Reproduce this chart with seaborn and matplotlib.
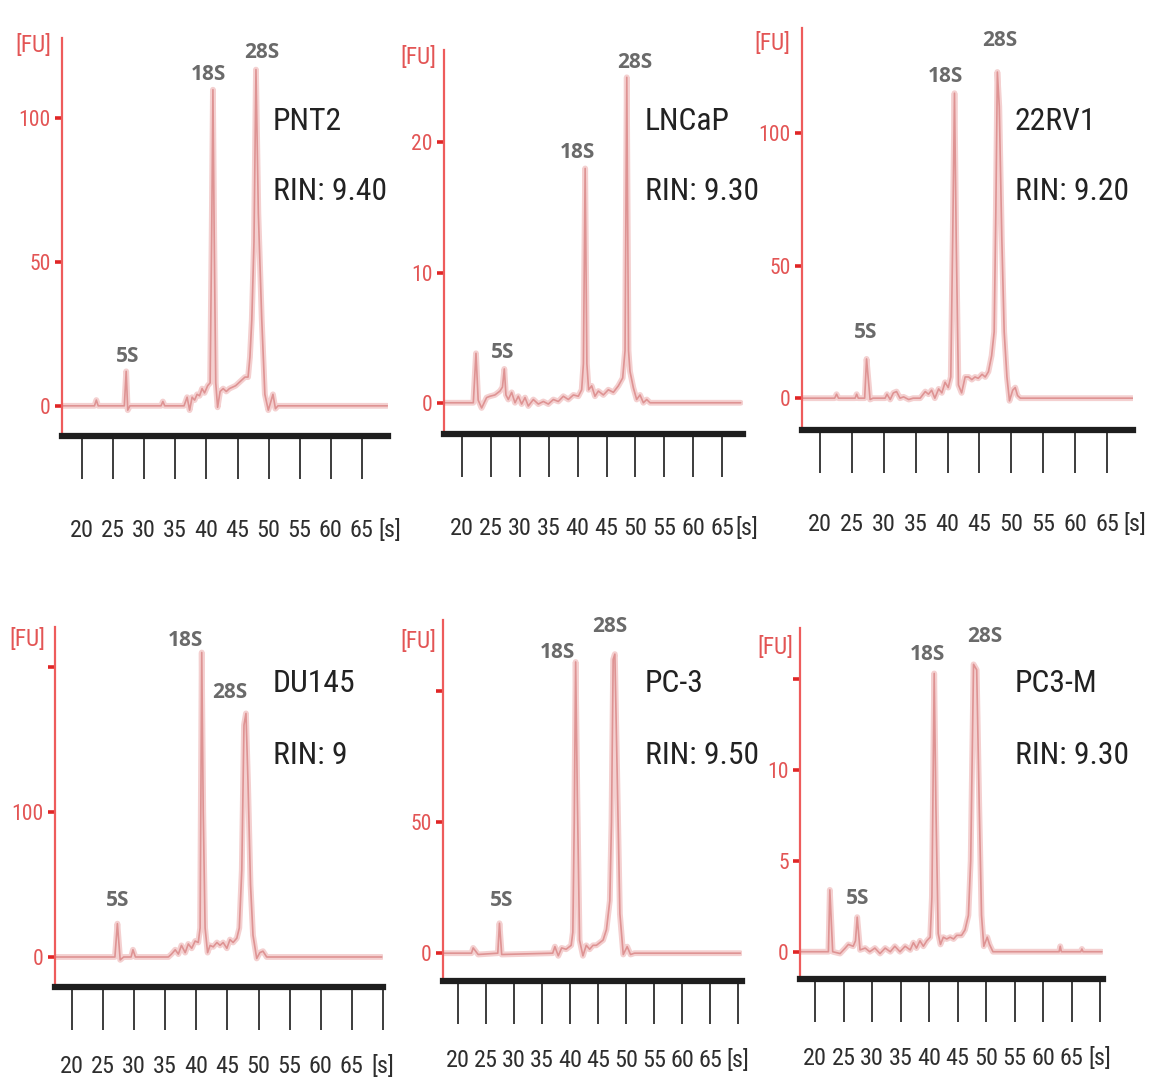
import matplotlib
matplotlib.use('Agg')
import matplotlib.pyplot as plt
from matplotlib import font_manager
import pandas as pd
import seaborn as sns

sns.set_style('white')
plt.rcParams['font.family'] = ['DejaVu Sans']

# pick a narrow face if one is installed, else fall back to Arial-like Liberation Sans
installed = {f.name for f in font_manager.fontManager.ttflist}
NARROW = next((n for n in ['Liberation Sans Narrow', 'Roboto Condensed', 'Open Sans Condensed']
               if n in installed), None)
if NARROW is None:
    NARROW, FS = 'Liberation Sans', 1.0
else:
    FS = 1.2

# Sample names and RIN values
samples = ['PNT2', 'LNCaP', '22RV1', 'DU145', 'PC-3', 'PC3-M']
rin_labels = ['RIN: 9.40', 'RIN: 9.30', 'RIN: 9.20', 'RIN: 9', 'RIN: 9.50', 'RIN: 9.30']
peak_names = ['18S', '28S', '5S']

# x ticks (seconds)
x_ticks_top = [20, 25, 30, 35, 40, 45, 50, 55, 60, 65]
x_ticks_bottom = [20, 25, 30, 35, 40, 45, 50, 55, 60, 65, 70]
x_labels_bottom = ['20', '25', '30', '35', '40', '45', '50', '55', '60', '65', '[s]']

# y ticks (fluorescence units) per panel
pnt2_yticks, pnt2_ylabels = [0, 50, 100], ['0', '50', '100']
lncap_yticks, lncap_ylabels = [0, 10, 20], ['0', '10', '20']
rv1_yticks, rv1_ylabels = [0, 50, 100], ['0', '50', '100']
du_yticks, du_ylabels = [0, 100, 200], ['0', '100', '']
pc3_yticks, pc3_ylabels = [0, 50, 100], ['0', '50', '']
pc3m_yticks, pc3m_ylabels = [0, 5, 10, 15], ['0', '5', '10', '']

# Electropherogram traces (time [s], FU)
pnt2_time = [16.9, 22.0, 22.3, 22.6, 26.8, 27.1, 27.35, 27.7, 32.7, 33.0, 33.3, 36.4, 36.9, 37.3,
             37.7, 38.1, 38.5, 38.9, 39.3, 39.7, 40.2, 40.6, 40.85, 41.05, 41.25, 41.5, 41.8, 42.2,
             42.7, 43.2, 43.7, 44.2, 44.7, 45.2, 45.7, 46.2, 46.7, 47.0, 47.3, 47.65, 47.97, 48.35,
             48.9, 49.4, 49.95, 50.3, 50.7, 51.1, 51.5, 69.1]
pnt2_fu = [0, 0, 2, 0, 0, 12, -1.5, 0, 0, 1.5, 0, 0, 3, -1.5,
           3, 2, 4, 3.5, 6, 4.5, 7, 8, 60, 110, 60, 8, -0.5, 5,
           6, 5, 6, 6.5, 7, 8, 9, 10, 10, 17, 30, 57, 117, 67,
           30, 4, -1.5, 1, 4, -1, 0, 0]

lncap_time = [16.8, 21.96, 22.42, 22.8, 23.4, 24.26, 24.84, 25.7, 26.57, 27.0, 27.32, 27.6, 28.01,
              28.59, 29.17, 29.74, 30.32, 30.9, 31.47, 32.34, 33.2, 34.07, 34.93, 35.8, 36.66, 37.53,
              38.39, 39.26, 40.12, 40.7, 41.0, 41.3, 41.6, 41.9, 42.43, 43.0, 43.58, 44.45, 45.31,
              46.18, 47.04, 47.79, 48.2, 48.5, 48.8, 49.06, 49.64, 50.21, 50.79, 51.37, 51.95, 52.52, 68.2]
lncap_fu = [0, 0, 3.8, 0.2, -0.4, 0.4, 0.5, 0.6, 0.9, 1.2, 2.6, 0.6, 0.25,
            0.8, 0, 0.5, -0.1, 0.4, -0.25, 0.25, -0.1, 0.1, -0.1, 0.25, 0.1, 0.5,
            0.25, 0.6, 0.5, 1.0, 3, 18, 3, 1.0, 1.3, 0.5, 0.9, 0.6, 1.0,
            0.8, 1.3, 1.9, 4, 25, 4, 2.4, 1.15, 0.25, 0.6, 0, 0.25, 0, 0]

rv1_time = [17.2, 22.3, 22.6, 22.9, 25.5, 25.75, 26.0, 27.0, 27.3, 27.85, 28.3, 30.2, 30.5, 31.0,
            31.5, 32.0, 32.55, 33.1, 33.9, 34.6, 35.7, 36.5, 37.0, 37.5, 38.0, 38.6, 39.1, 39.6,
            40.1, 40.5, 40.8, 41.08, 41.35, 41.7, 42.2, 42.75, 43.3, 43.8, 44.3, 44.8, 45.4, 45.9,
            46.4, 46.9, 47.3, 47.56, 47.8, 48.1, 48.5, 48.87, 49.3, 49.7, 50.2, 50.6, 50.96, 51.4, 69.0]
rv1_fu = [0, 0, 1.5, 0, 0, 1.5, 0, 0, 14.8, -0.5, 0, 0, 1.5, -0.5,
          2, 2.5, 0, 0.5, -0.5, 0, 0, 2.5, 1.5, 3, 0, 3.5, 2, 6,
          4, 8, 60, 115, 60, 5, 2, 8, 8, 7, 8, 7.5, 9, 8,
          10, 16, 25, 70, 123, 110, 60, 25, 8, -1, 3, 4, 1, 0, 0]

du_time = [17.1, 26.9, 27.3, 27.75, 28.3, 29.5, 29.8, 30.2, 35.5, 36.0, 36.6, 37.1, 37.6, 38.2,
           38.7, 39.25, 39.8, 40.3, 40.6, 40.86, 41.1, 41.4, 41.8, 42.2, 42.7, 43.3, 43.8, 44.3,
           44.9, 45.4, 45.9, 46.5, 46.9, 47.3, 47.65, 47.97, 48.3, 48.7, 49.1, 49.7, 50.2, 50.7,
           51.3, 69.8]
du_fu = [0, 0, 23, -2, 0, 0, 5, 0, 0, 2, 5, 2, 8, 3,
         9, 6, 11, 10, 20, 210, 100, 20, 3, 8, 7, 10, 8, 10,
         6, 12, 10, 13, 20, 60, 160, 168, 120, 50, 15, -1, 3, 4,
         0, 0]

pc3_time = [17.3, 22.4, 22.7, 23.6, 27.1, 27.4, 27.8, 36.9, 37.3, 37.9, 38.5, 39.3, 40.2, 40.5,
            40.75, 41.0, 41.3, 41.7, 42.3, 42.9, 43.5, 44.1, 44.7, 45.3, 45.9, 46.5, 47.1, 47.4,
            47.7, 48.0, 48.4, 48.9, 49.5, 50.2, 50.8, 51.5, 70.4]
pc3_fu = [0, 0, 2, -0.5, 0, 11.4, -0.5, 0, 2.5, -1, 2, 1.5, 3, 8,
          50, 111, 60, 5, -1, 3, 1.5, 3, 3, 4, 5, 9, 20, 50,
          112, 114, 70, 15, -0.5, 2.5, -0.5, 0, 0]

pc3m_time = [17.4, 22.35, 22.6, 23.1, 24.4, 25.3, 25.85, 26.7, 27.1, 27.4, 27.9, 28.8, 29.6, 30.5,
             31.4, 32.3, 33.2, 34.0, 34.9, 35.8, 36.7, 37.25, 37.8, 38.4, 39.0, 39.6, 40.2, 40.5,
             40.9, 41.2, 41.6, 42.0, 42.5, 43.1, 43.7, 44.3, 44.85, 45.7, 46.3, 46.9, 47.3, 47.8,
             48.35, 48.8, 49.2, 49.6, 50.2, 50.6, 51.2, 62.8, 63.0, 63.2, 66.6, 66.8, 67.0, 70.3]
pc3m_fu = [0, 0, 3.4, 0, -0.1, 0.2, 0.4, 0.3, 0.6, 1.9, 0.1, 0.2, 0, 0.2,
           -0.1, 0.2, 0, 0.3, 0, 0.3, 0.1, 0.5, 0.2, 0.6, 0.3, 0.6, 0.8, 3,
           15.3, 8, 1, 0.4, 0.8, 0.7, 0.8, 0.7, 0.9, 0.9, 1.2, 2, 5, 15.8,
           15.5, 8, 2, 0.3, 0.8, 0.4, 0, 0, 0.3, 0, 0, 0.15, 0, 0]

traces = [(pnt2_time, pnt2_fu), (lncap_time, lncap_fu), (rv1_time, rv1_fu),
          (du_time, du_fu), (pc3_time, pc3_fu), (pc3m_time, pc3m_fu)]
yticks = [(pnt2_yticks, pnt2_ylabels), (lncap_yticks, lncap_ylabels), (rv1_yticks, rv1_ylabels),
          (du_yticks, du_ylabels), (pc3_yticks, pc3_ylabels), (pc3m_yticks, pc3m_ylabels)]

# Layout in pixels: axes box (left, top, right, bottom), limits, label spots
layout = [
    dict(box=(62, 38, 388, 436), xlim=(16.78, 69.2), ylim=(-10.5, 128), s_x=69.5, pad=29,
         fu=(33, 45), name=(273, 122), rin=(273, 192),
         peaks=[(208, 75), (262, 52), (128, 357)]),
    dict(box=(444, 50, 743, 434), xlim=(16.89, 68.6), ylim=(-2.4, 27.1), s_x=69.3, pad=29,
         fu=(418, 58), name=(645, 122), rin=(645, 192),
         peaks=[(577, 152), (635, 62), (503, 353)]),
    dict(box=(802, 28, 1133, 430), xlim=(17.18, 69.06), ylim=(-12, 139.6), s_x=69.4, pad=29,
         fu=(772, 43), name=(1015, 122), rin=(1015, 192),
         peaks=[(945, 77), (1000, 40), (866, 332)]),
    dict(box=(55, 627, 383, 987), xlim=(17.27, 69.9), ylim=(-20.7, 227.6), s_x=None, pad=18,
         fu=(27, 640), name=(273, 683), rin=(273, 755),
         peaks=[(185, 641), (230, 692), (118, 901)]),
    dict(box=(443, 620, 742, 981), xlim=(17.32, 70.7), ylim=(-10.6, 127), s_x=None, pad=18,
         fu=(418, 642), name=(645, 683), rin=(645, 755),
         peaks=[(557, 652), (610, 627), (502, 901)]),
    dict(box=(800, 628, 1103, 979), xlim=(17.37, 70.5), ylim=(-1.5, 17.8), s_x=None, pad=18,
         fu=(775, 647), name=(1015, 683), rin=(1015, 755),
         peaks=[(927, 655), (985, 636), (858, 899)]),
]

W, H = 1150, 1088
fig = plt.figure(figsize=(W / 100, H / 100), dpi=100)


def fx(x):
    return x / W


def fy(y):
    return 1 - y / H


TICK_LEN = 31
xlab_style = dict(family=NARROW, fontsize=14.5 * FS, color='#2e2e2e')
red_style = dict(family=NARROW, fontsize=13 * FS, color='#e35555')

for i, (t, fu) in enumerate(traces):
    lay = layout[i]
    l, tp, r, b = lay['box']
    ax = fig.add_axes([fx(l), fy(b), (r - l) / W, (b - tp) / H])
    df = pd.DataFrame({'time': t, 'fu': fu})
    sns.lineplot(data=df, x='time', y='fu', ax=ax, color='#f4d0d0', lw=4.2,
                 estimator=None, sort=False)
    sns.lineplot(data=df, x='time', y='fu', ax=ax, color='#de9393', lw=1.2,
                 estimator=None, sort=False)
    ax.set_xlim(*lay['xlim'])
    ax.set_ylim(*lay['ylim'])
    ax.set_xlabel('')
    ax.set_ylabel('')
    ax.grid(False)

    ax.spines['top'].set_visible(False)
    ax.spines['right'].set_visible(False)
    ax.spines['left'].set_color('#ee5c5c')
    ax.spines['left'].set_linewidth(1.6)
    ax.spines['bottom'].set_color('#1e1e1e')
    ax.spines['bottom'].set_linewidth(4.5)

    yt, ytl = yticks[i]
    ax.set_yticks(yt)
    ax.set_yticklabels(ytl, **red_style)
    ax.tick_params(axis='y', left=True, length=5, width=2.6, color='#e02626', pad=3,
                   direction='out')

    if i < 3:
        ax.set_xticks(x_ticks_top)
        ax.set_xticklabels([str(v) for v in x_ticks_top], **xlab_style)
        ax.annotate('[s]', xy=(lay['s_x'], 0), xycoords=ax.get_xaxis_transform(),
                    xytext=(0, -(TICK_LEN + lay['pad'])), textcoords='offset points',
                    ha='center', va='top', annotation_clip=False, **xlab_style)
    else:
        ax.set_xticks(x_ticks_bottom)
        ax.set_xticklabels(x_labels_bottom, **xlab_style)
    ax.tick_params(axis='x', bottom=True, length=TICK_LEN, width=1.4, color='#3c3c3c',
                   pad=lay['pad'], direction='out')

    # [FU] unit label
    fig.text(fx(lay['fu'][0]), fy(lay['fu'][1]), '[FU]', ha='center', va='center',
             family=NARROW, fontsize=14 * FS, color='#e35555')

    # sample name and RIN
    fig.text(fx(lay['name'][0]), fy(lay['name'][1]), samples[i], ha='left', va='center',
             family=NARROW, fontsize=19 * FS, color='#222222')
    fig.text(fx(lay['rin'][0]), fy(lay['rin'][1]), rin_labels[i], ha='left', va='center',
             family=NARROW, fontsize=19 * FS, color='#222222')

    # rRNA peak labels
    for name, (px, py) in zip(peak_names, lay['peaks']):
        fig.text(fx(px), fy(py), name, ha='center', va='center', family='Open Sans',
                 fontweight='bold', fontsize=15, color='#6a6a6a')

fig.savefig('out.png', dpi=100)
